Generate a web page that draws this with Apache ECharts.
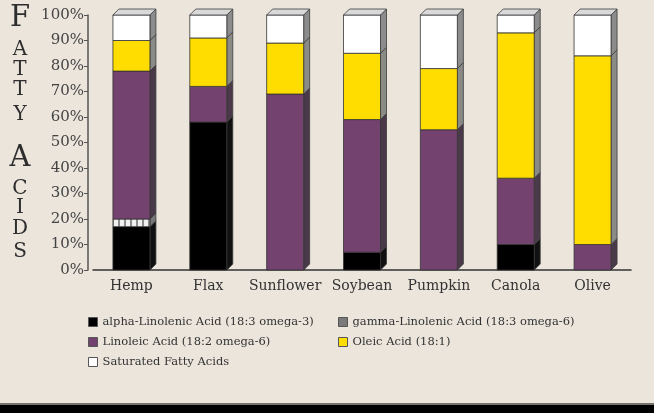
<!DOCTYPE html>
<html>
<head>
<meta charset="utf-8">
<script src="https://cdn.jsdelivr.net/npm/echarts@6/dist/echarts.min.js"></script>
<style>
  html, body { margin: 0; padding: 0; background: #ebe5dc; }
  #main { width: 654px; height: 413px; }
</style>
</head>
<body>
<div id="main"></div>
<script>
// 数据
var categories = ['Hemp', 'Flax', 'Sunflower', 'Soybean', 'Pumpkin', 'Canola', 'Olive'];
var alphaLinolenic = [17, 58, 0, 7, 0, 10, 0];
var gammaLinolenic = [3, 0, 0, 0, 0, 0, 0];
var linoleic = [58, 14, 69, 52, 55, 26, 10];
var oleic = [12, 19, 20, 26, 24, 57, 74];
var saturated = [10, 9, 11, 15, 21, 7, 16];
var titleLetters = ['F', 'A', 'T', 'T', 'Y', 'A', 'C', 'I', 'D', 'S'];

var serif = 'DejaVu Serif';

// gamma 条纹
var pc = document.createElement('canvas');
pc.width = 6; pc.height = 8;
var pctx = pc.getContext('2d');
pctx.fillStyle = '#f0f0f0';
pctx.fillRect(0, 0, 6, 8);
pctx.fillStyle = '#8c8c8c';
pctx.fillRect(4, 0, 2, 8);

var layers = [
    { name: 'alpha-Linolenic Acid (18:3 omega-3)', values: alphaLinolenic, color: '#000000', front: '#000000', side: '#111111' },
    { name: 'gamma-Linolenic Acid (18:3 omega-6)', values: gammaLinolenic, color: '#7a7a7a', front: { image: pc, repeat: 'repeat' }, side: '#777777' },
    { name: 'Linoleic Acid (18:2 omega-6)', values: linoleic, color: '#74426f', front: '#74426f', side: '#4a3a49' },
    { name: 'Oleic Acid (18:1)', values: oleic, color: '#ffdd00', front: '#ffdd00', side: '#8a8a86' },
    { name: 'Saturated Fatty Acids', values: saturated, color: '#ffffff', front: '#ffffff', side: '#8c8c8c' }
];

var BAR_W = 37, DEPTH = 6;

function makeRender(layer) {
    return function (params, api) {
        var lo = api.value(1), hi = api.value(2);
        if (hi - lo <= 0) return;
        var cat = api.value(0);
        var pb = api.coord([cat, lo]);
        var pt = api.coord([cat, hi]);
        var xl = pb[0] - BAR_W / 2, xr = pb[0] + BAR_W / 2;
        var yb = pb[1], yt = pt[1];
        var kids = [
            {
                type: 'polygon',
                shape: { points: [[xr, yt], [xr + DEPTH, yt - DEPTH], [xr + DEPTH, yb - DEPTH], [xr, yb]] },
                style: { fill: layer.side, stroke: '#3a3a3a', lineWidth: 0.8 }
            },
            {
                type: 'rect',
                shape: { x: xl, y: yt, width: BAR_W, height: yb - yt },
                style: { fill: layer.front, stroke: '#333', lineWidth: 0.8 }
            }
        ];
        if (hi >= 100) {
            kids.push({
                type: 'polygon',
                shape: { points: [[xl, yt], [xl + DEPTH, yt - DEPTH], [xr + DEPTH, yt - DEPTH], [xr, yt]] },
                style: { fill: '#d9d9d9', stroke: '#3a3a3a', lineWidth: 0.8 }
            });
        }
        return { type: 'group', children: kids };
    };
}

var base = categories.map(function () { return 0; });
var series = layers.map(function (layer) {
    var data = layer.values.map(function (v, i) {
        var item = [i, base[i], base[i] + v];
        base[i] += v;
        return item;
    });
    return {
        name: layer.name,
        type: 'custom',
        renderItem: makeRender(layer),
        itemStyle: { color: layer.color, borderColor: '#555', borderWidth: 1 },
        encode: { x: 0, y: 2 },
        data: data
    };
});

var letterPos = [[18, 29], [50, 20], [70, 20], [90, 20], [115, 20], [158, 29], [189, 20], [208, 20], [229, 20], [252, 20]];
var graphics = titleLetters.map(function (ch, i) {
    return {
        type: 'text',
        x: 20,
        y: letterPos[i][0],
        style: {
            text: ch,
            fill: '#2e2e2e',
            font: letterPos[i][1] + 'px "' + serif + '"',
            textAlign: 'center',
            textVerticalAlign: 'middle'
        }
    };
});
graphics.push({ type: 'rect', shape: { x: 0, y: 404, width: 654, height: 9 }, style: { fill: '#000' } });
graphics.push({ type: 'rect', shape: { x: 0, y: 403, width: 654, height: 2 }, style: { fill: '#77736c' } });

function legendItem(i) {
    var l = layers[i];
    return { name: l.name, itemStyle: { color: l.color, borderColor: '#555', borderWidth: 1 } };
}

var legendBase = {
    orient: 'vertical',
    top: 316,
    padding: 0,
    itemWidth: 9,
    itemHeight: 9,
    itemGap: 8,
    icon: 'rect',
    selectedMode: false,
    textStyle: { fontFamily: serif, fontSize: 11.5, color: '#333' }
};

var option = {
    backgroundColor: '#ebe5dc',
    animation: false,
    grid: { left: 93, right: 23, top: 15, bottom: 143 },
    legend: [
        Object.assign({}, legendBase, { left: 88, data: [legendItem(0), legendItem(2), legendItem(4)] }),
        Object.assign({}, legendBase, { left: 338, data: [legendItem(1), legendItem(3)] })
    ],
    xAxis: {
        type: 'category',
        data: categories,
        axisLine: { lineStyle: { color: '#333', width: 1.5 } },
        axisTick: { show: false },
        axisLabel: { interval: 0, fontFamily: serif, fontSize: 14, color: '#333', margin: 9 }
    },
    yAxis: {
        type: 'value',
        min: 0,
        max: 100,
        interval: 10,
        offset: 5,
        axisLine: { show: true, lineStyle: { color: '#555', width: 1.5 } },
        axisTick: { show: true, length: 4, lineStyle: { color: '#555' } },
        splitLine: { show: false },
        axisLabel: { formatter: '{value}%', fontFamily: serif, fontSize: 15, color: '#444', margin: 4 }
    },
    graphic: graphics,
    series: series
};

var myChart = echarts.init(document.getElementById('main'));
myChart.setOption(option);
</script>
</body>
</html>
